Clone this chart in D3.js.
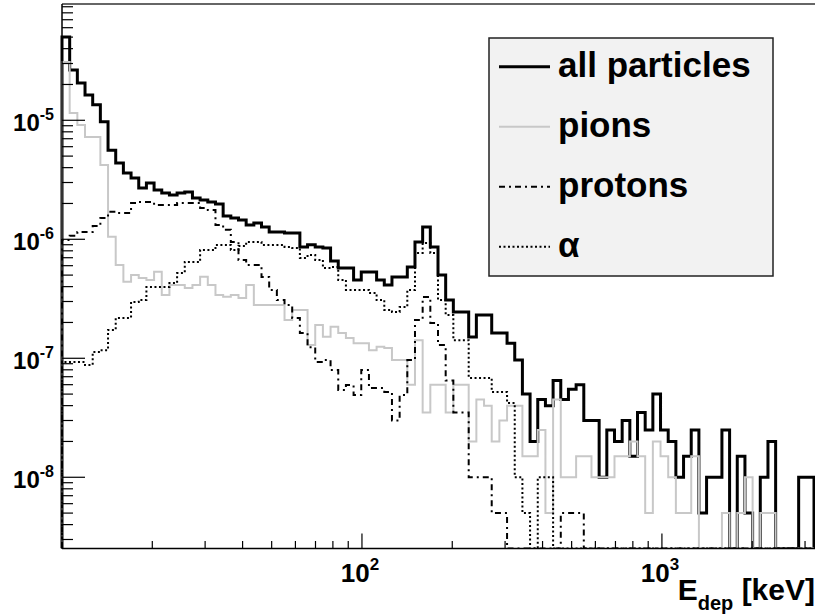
<!DOCTYPE html>
<html>
<head>
<meta charset="utf-8">
<script src="https://cdnjs.cloudflare.com/ajax/libs/d3/7.8.5/d3.min.js"></script>
<style>
  body { margin: 0; background: #fff; }
  svg { display: block; }
  text { font-family: "Liberation Sans", Arial, Helvetica, sans-serif; font-weight: bold; fill: #000; }
</style>
</head>
<body>
<svg id="chart" width="815" height="616"></svg>
<script>
(function(){

  // histogram binning (log bins) and axis ranges
  var X_MIN = 10
  var X_MAX = Math.pow(10, 3.507)
  var N_BINS = 98
  var Y_MIN = 2.52e-9
  var Y_MAX = 9.49e-5

  var allParticles = [
    5.0e-5, 2.65e-5, 2.06e-5, 1.63e-5, 1.35e-5, 9.7e-6, 5.6e-6, 4.38e-6, 3.61e-6, 3.27e-6,
    2.70e-6, 2.97e-6, 2.60e-6, 2.45e-6, 2.36e-6, 2.45e-6, 2.50e-6, 2.22e-6, 2.14e-6, 2.06e-6,
    1.98e-6, 1.57e-6, 1.51e-6, 1.45e-6, 1.32e-6, 1.37e-6, 1.27e-6, 1.15e-6, 1.15e-6, 1.13e-6,
    1.13e-6, 8.6e-7, 9.0e-7, 8.6e-7, 8.45e-7, 6.57e-7, 5.74e-7, 5.74e-7, 4.55e-7, 5.31e-7,
    5.31e-7, 4.55e-7, 4.13e-7, 4.82e-7, 4.82e-7, 5.85e-7, 9.49e-7, 1.27e-6, 8.6e-7, 5.01e-7,
    3.09e-7, 2.45e-7, 2.45e-7, 1.51e-7, 2.31e-7, 2.31e-7, 1.63e-7, 1.63e-7, 1.34e-7, 9.67e-8,
    5.0e-8, 2.0e-8, 4.5e-8, 4.0e-8, 6.5e-8, 4.5e-8, 5.5e-8, 6.0e-8, 3.0e-8, 3.0e-8,
    1.0e-8, 2.5e-8, 2.0e-8, 3.0e-8, 1.5e-8, 3.5e-8, 2.5e-8, 5.0e-8, 2.5e-8, 2.0e-8,
    1.0e-8, 1.5e-8, 2.5e-8, 5.0e-9, 1.0e-8, 1.0e-8, 2.5e-8, 0, 1.5e-8, 5.0e-9,
    0, 1.0e-8, 2.0e-8, 0, 0, 0, 1.0e-8, 1.0e-8
  ]

  var pions = [
    3.09e-5, 1.15e-5, 9.13e-6, 7.24e-6, 7.24e-6, 4.21e-6, 1.05e-6, 6.08e-7, 4.40e-7, 5.01e-7,
    4.73e-7, 4.55e-7, 5.34e-7, 3.40e-7, 4.13e-7, 4.13e-7, 3.90e-7, 4.13e-7, 4.85e-7, 4.13e-7,
    3.40e-7, 3.29e-7, 3.40e-7, 3.21e-7, 4.13e-7, 2.80e-7, 2.80e-7, 2.80e-7, 2.80e-7, 2.10e-7,
    2.55e-7, 2.55e-7, 1.29e-7, 1.90e-7, 1.52e-7, 1.84e-7, 1.63e-7, 1.48e-7, 1.34e-7, 1.34e-7,
    1.17e-7, 1.25e-7, 1.22e-7, 9.67e-8, 9.67e-8, 6.0e-8, 1.42e-7, 3.5e-8, 6.0e-8, 6.0e-8,
    3.5e-8, 6.0e-8, 6.0e-8, 2.0e-8, 4.5e-8, 4.0e-8, 2.0e-8, 3.0e-8, 4.0e-8, 4.0e-8,
    1.5e-8, 1.5e-8, 2.5e-8, 5.0e-9, 4.5e-8, 1.0e-8, 1.0e-8, 1.5e-8, 1.5e-8, 1.0e-8,
    1.0e-8, 1.0e-8, 1.5e-8, 1.5e-8, 2.0e-8, 1.5e-8, 5.0e-9, 2.0e-8, 1.5e-8, 1.0e-8,
    5.0e-9, 5.0e-9, 1.5e-8, 0, 0, 0, 5.0e-9, 0, 5.0e-9, 1.0e-8,
    0, 5.0e-9, 5.0e-9, 0, 0, 0, 0, 0
  ]

  var protons = [
    9.86e-7, 1.07e-6, 1.15e-6, 1.15e-6, 1.29e-6, 1.51e-6, 1.70e-6, 1.66e-6, 1.66e-6, 2.02e-6,
    2.06e-6, 2.06e-6, 1.94e-6, 1.94e-6, 1.94e-6, 2.02e-6, 2.02e-6, 2.02e-6, 1.83e-6, 1.76e-6,
    1.32e-6, 1.20e-6, 9.49e-7, 6.70e-7, 6.08e-7, 6.08e-7, 4.82e-7, 3.75e-7, 3.09e-7, 2.80e-7,
    2.18e-7, 1.63e-7, 1.24e-7, 9.31e-8, 9.67e-8, 7.97e-8, 5.42e-8, 5.96e-8, 4.91e-8, 7.97e-8,
    5.63e-8, 5.63e-8, 5.21e-8, 3.0e-8, 4.91e-8, 9.67e-8, 2.10e-7, 3.27e-7, 1.98e-7, 1.29e-7,
    6.5e-8, 3.5e-8, 3.5e-8, 1.0e-8, 1.0e-8, 1.0e-8, 5.0e-9, 5.0e-9, 0, 0,
    0, 0, 0, 0, 0, 5.0e-9, 5.0e-9, 5.0e-9, 0, 0,
    0, 0, 0, 0, 0, 0, 0, 0, 0, 0,
    0, 0, 0, 0, 0, 0, 0, 0, 0, 0,
    0, 0, 0, 0, 0, 0, 0, 0
  ]

  var alphas = [
    9.31e-8, 9.31e-8, 9.31e-8, 8.78e-8, 1.13e-7, 1.17e-7, 1.73e-7, 2.18e-7, 2.18e-7, 2.97e-7,
    3.09e-7, 3.97e-7, 3.97e-7, 3.97e-7, 4.29e-7, 5.21e-7, 6.45e-7, 6.45e-7, 8.13e-7, 8.13e-7,
    8.96e-7, 8.96e-7, 8.13e-7, 8.78e-7, 9.49e-7, 9.49e-7, 8.96e-7, 8.96e-7, 8.96e-7, 8.62e-7,
    8.45e-7, 6.97e-7, 7.38e-7, 6.70e-7, 5.74e-7, 5.85e-7, 4.55e-7, 3.75e-7, 3.75e-7, 3.75e-7,
    3.54e-7, 3.09e-7, 2.55e-7, 2.45e-7, 2.70e-7, 3.75e-7, 7.67e-7, 9.31e-7, 7.67e-7, 3.09e-7,
    2.31e-7, 1.42e-7, 1.42e-7, 6.83e-8, 6.83e-8, 6.83e-8, 5.21e-8, 5.21e-8, 4.21e-8, 1.0e-8,
    5.0e-9, 0, 1.0e-8, 1.0e-8, 0, 0, 0, 0, 0, 0,
    0, 0, 0, 0, 0, 0, 0, 0, 0, 0,
    0, 0, 0, 0, 0, 0, 0, 0, 0, 0,
    0, 0, 0, 0, 0, 0, 0, 0
  ]

  var legendLabels = ['all particles', 'pions', 'protons', '\u03b1']
  var yTickExps = [-5, -6, -7, -8]
  var xTickExps = [2, 3]

  var LEFT = 62, RIGHT = 814, TOP = 4, BOTTOM = 548.5

  var svg = d3.select('#chart')

  var x = d3.scaleLog().domain([X_MIN, X_MAX]).range([LEFT, RIGHT])
  var y = d3.scaleLog().domain([Y_MIN, Y_MAX]).range([BOTTOM, TOP])

  // log-spaced bin edges
  var lo = Math.log10(X_MIN), hi = Math.log10(X_MAX)
  var edges = d3.range(N_BINS + 1).map(function (i) { return Math.pow(10, lo + i * (hi - lo) / N_BINS) })

  var series = [
    { values: allParticles, stroke: '#000', width: 3, dash: null },
    { values: pions, stroke: '#c8c8c8', width: 2, dash: null },
    { values: protons, stroke: '#000', width: 2, dash: '6,4,2,4' },
    { values: alphas, stroke: '#000', width: 2, dash: '2,2.5' }
  ]

  function histPoints(values) {
    var pts = [[edges[0], 0]]
    values.forEach(function (v, i) {
      pts.push([edges[i], v])
      pts.push([edges[i + 1], v])
    })
    pts.push([edges[values.length], 0])
    return pts
  }

  var line = d3.line()
    .x(function (d) { return x(d[0]) })
    .y(function (d) { return y(Math.max(d[1], Y_MIN)) })

  svg.append('clipPath').attr('id', 'plot')
    .append('rect')
    .attr('x', LEFT - 2).attr('y', TOP)
    .attr('width', RIGHT - LEFT + 4).attr('height', BOTTOM - TOP)

  var g = svg.append('g').attr('clip-path', 'url(#plot)')
  series.forEach(function (s) {
    g.append('path')
      .attr('d', line(histPoints(s.values)))
      .attr('fill', 'none')
      .attr('stroke', s.stroke)
      .attr('stroke-width', s.width)
      .attr('stroke-dasharray', s.dash)
      .attr('stroke-linejoin', 'miter')
  })

  // frame
  svg.append('line').attr('x1', LEFT).attr('x2', 815).attr('y1', TOP).attr('y2', TOP)
    .attr('stroke', '#333').attr('stroke-width', 1.5)
  svg.append('line').attr('x1', LEFT).attr('x2', LEFT).attr('y1', TOP).attr('y2', BOTTOM)
    .attr('stroke', '#000').attr('stroke-width', 1.5)
  svg.append('line').attr('x1', LEFT).attr('x2', 815).attr('y1', BOTTOM).attr('y2', BOTTOM)
    .attr('stroke', '#000').attr('stroke-width', 1.5)

  // y ticks (inside, ROOT style)
  y.ticks().forEach(function (t) {
    var major = Math.abs(Math.log10(t) - Math.round(Math.log10(t))) < 1e-6
    svg.append('line')
      .attr('x1', LEFT).attr('x2', LEFT + (major ? 23 : 11))
      .attr('y1', y(t)).attr('y2', y(t))
      .attr('stroke', '#000').attr('stroke-width', 1.2)
  })
  x.ticks().forEach(function (t) {
    if (t <= X_MIN) return
    var major = Math.abs(Math.log10(t) - Math.round(Math.log10(t))) < 1e-6
    svg.append('line')
      .attr('x1', x(t)).attr('x2', x(t))
      .attr('y1', BOTTOM).attr('y2', BOTTOM - (major ? 15 : 7.5))
      .attr('stroke', '#000').attr('stroke-width', 1.2)
  })

  // tick labels
  yTickExps.forEach(function (e) {
    var t = svg.append('text')
      .attr('x', 54).attr('y', y(Math.pow(10, e)) + 11)
      .attr('text-anchor', 'end')
    t.append('tspan').attr('font-size', 24).text('10')
    t.append('tspan').attr('font-size', 16).attr('dy', -11).text('-' + Math.abs(e))
  })
  xTickExps.forEach(function (e) {
    var t = svg.append('text')
      .attr('x', x(Math.pow(10, e)) - 2).attr('y', 582)
      .attr('text-anchor', 'middle')
    t.append('tspan').attr('font-size', 26).text('10')
    t.append('tspan').attr('font-size', 17).attr('dy', -12).text(e)
  })

  // axis title
  var title = svg.append('text').attr('x', 815).attr('y', 600).attr('text-anchor', 'end')
  title.append('tspan').attr('font-size', 30).text('E')
  title.append('tspan').attr('font-size', 20).attr('dy', 10).text('dep')
  title.append('tspan').attr('font-size', 30).attr('dy', -10).text(' [keV]')

  // legend
  var legend = svg.append('g')
  legend.append('rect')
    .attr('x', 489).attr('y', 38).attr('width', 284).attr('height', 238)
    .attr('fill', '#f2f2f2').attr('stroke', '#222').attr('stroke-width', 1.5)
  series.forEach(function (s, i) {
    var ly = 66.7 + i * 60
    legend.append('line')
      .attr('x1', 499).attr('x2', 550).attr('y1', ly).attr('y2', ly)
      .attr('stroke', s.stroke).attr('stroke-width', s.width)
      .attr('stroke-dasharray', s.dash)
    legend.append('text')
      .attr('x', 558).attr('y', ly + 10)
      .attr('font-size', 35)
      .attr('font-weight', i === 3 ? 'normal' : 'bold')
      .text(legendLabels[i])
  })

})()
</script>
</body>
</html>
